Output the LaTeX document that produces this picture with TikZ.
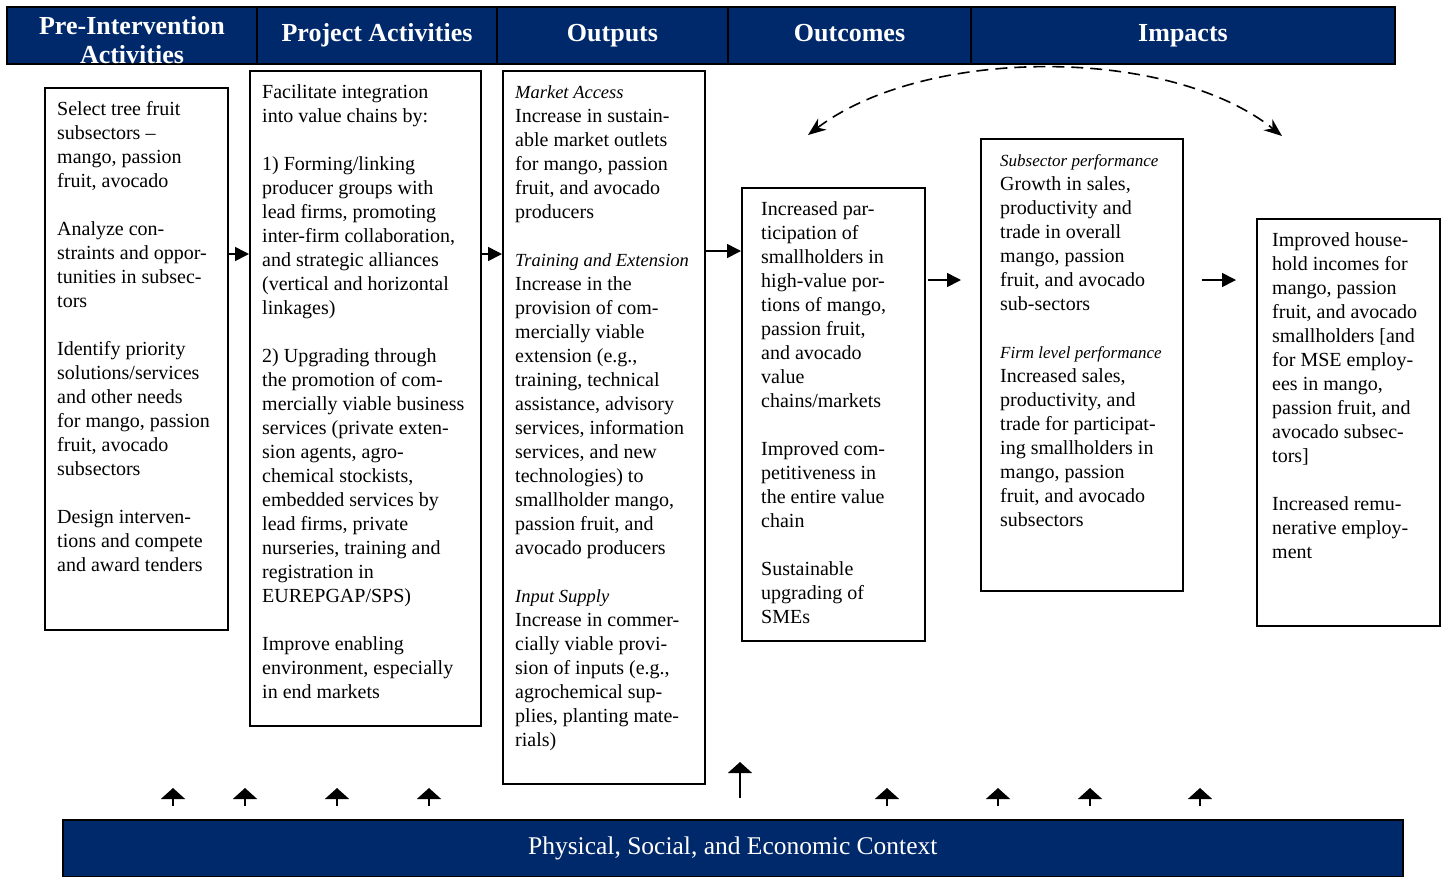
\documentclass[tikz,border=0pt]{standalone}
\usepackage{fontspec}
\setmainfont{Liberation Serif}
\usetikzlibrary{positioning,calc,arrows.meta}
\definecolor{navy}{RGB}{0,41,107}
\tikzstyle{head} = [draw=black,line width=1.5pt,fill=navy,text=white,font=\bfseries\fontsize{26}{29}\selectfont,minimum height=57pt,text height=18pt,text depth=6pt,inner sep=0pt,outer sep=0pt,align=center]
\tikzstyle{box} = [draw,line width=1.6pt,inner sep=0pt,anchor=north west]
\tikzstyle{txt} = [inner sep=0pt,anchor=north west,align=left,font=\fontsize{20}{24}\selectfont]
\tikzstyle{arrow} = [line width=1.6pt,-{Triangle[length=14pt,width=14pt]}]
\tikzstyle{uparrow} = [line width=1.6pt,-{Triangle[length=11pt,width=24pt]}]
\tikzstyle{dasharrow} = [line width=1.6pt,dash pattern=on 12pt off 7pt,{Stealth[length=18pt,width=14pt]}-{Stealth[length=18pt,width=14pt]}]
\newcommand{\sub}[1]{{\fontsize{17}{24}\selectfont\itshape #1}}
\newcommand{\hd}[1]{{\fontsize{18.5}{24}\selectfont\itshape #1}}

\begin{document}
\begin{tikzpicture}[x=1pt,y=-1pt]
  \useasboundingbox (0,0) rectangle (1445,876);
  \node[head,minimum width=250pt,anchor=north west] (h_1) at (7,7) {};
  \node[text=white,font=\bfseries\fontsize{26}{29}\selectfont,align=center] at ($(h_1.center)+(0,5)$) {Pre-Intervention\\Activities};
  \node[head,minimum width=240pt,right=0pt of h_1] (h_2) {Project Activities};
  \node[head,minimum width=231pt,right=0pt of h_2] (h_3) {Outputs};
  \node[head,minimum width=243pt,right=0pt of h_3] (h_4) {Outcomes};
  \node[head,minimum width=424pt,right=0pt of h_4] (h_5) {Impacts};

  \node[box,minimum width=183pt,minimum height=542pt] (pre) at (44,87) {};
  \node[box,minimum width=231pt,minimum height=655pt] (act) at (249,70) {};
  \node[box,minimum width=202pt,minimum height=713pt] (out) at (502,70) {};
  \node[box,minimum width=183pt,minimum height=453pt] (res) at (741,187) {};
  \node[box,minimum width=202pt,minimum height=452pt] (perf) at (980,138) {};
  \node[box,minimum width=183pt,minimum height=407pt] (imp) at (1256,218) {};

  \node[txt] (pre_t) at ([shift={(13,11)}]pre.north west) {\strut Select tree fruit\\subsectors --\\mango, passion\\fruit, avocado\\[24pt]
    Analyze con-\\straints and oppor-\\tunities in subsec-\\tors\\[24pt]
    Identify priority\\solutions/services\\and other needs\\for mango, passion\\fruit, avocado\\subsectors\\[24pt]
    Design interven-\\tions and compete\\and award tenders};
  \node[txt] (act_t) at ([shift={(13,11)}]act.north west) {\strut Facilitate integration\\into value chains by:\\[24pt]
    1) Forming/linking\\producer groups with\\lead firms, promoting\\inter-firm collaboration,\\and strategic alliances\\(vertical and horizontal\\linkages)\\[24pt]
    2) Upgrading through\\the promotion of com-\\mercially viable business\\services (private exten-\\sion agents, agro-\\chemical stockists,\\embedded services by\\lead firms, private\\nurseries, training and\\registration in\\EUREPGAP/SPS)\\[24pt]
    Improve enabling\\environment, especially\\in end markets};
  \node[txt] (out_t) at ([shift={(13,11)}]out.north west) {\strut\hd{Market Access}\\Increase in sustain-\\able market outlets\\for mango, passion\\fruit, and avocado\\producers\\[24pt]
    \hd{Training and Extension}\\Increase in the\\provision of com-\\mercially viable\\extension (e.g.,\\training, technical\\assistance, advisory\\services, information\\services, and new\\technologies) to\\smallholder mango,\\passion fruit, and\\avocado producers\\[24pt]
    \hd{Input Supply}\\Increase in commer-\\cially viable provi-\\sion of inputs (e.g.,\\agrochemical sup-\\plies, planting mate-\\rials)};
  \node[txt] (res_t) at ([shift={(20,11)}]res.north west) {\strut Increased par-\\ticipation of\\smallholders in\\high-value por-\\tions of mango,\\passion fruit,\\and avocado\\value\\chains/markets\\[24pt]
    Improved com-\\petitiveness in\\the entire value\\chain\\[24pt]
    Sustainable\\upgrading of\\SMEs};
  \node[txt] (perf_t) at ([shift={(20,11)}]perf.north west) {\strut\sub{Subsector performance}\\Growth in sales,\\productivity and\\trade in overall\\mango, passion\\fruit, and avocado\\sub-sectors\\[24pt]
    \sub{Firm level performance}\\Increased sales,\\productivity, and\\trade for participat-\\ing smallholders in\\mango, passion\\fruit, and avocado\\subsectors};
  \node[txt] (imp_t) at ([shift={(16,11)}]imp.north west) {\strut Improved house-\\hold incomes for\\mango, passion\\fruit, and avocado\\smallholders [and\\for MSE employ-\\ees in mango,\\passion fruit, and\\avocado subsec-\\tors]\\[24pt]
    Increased remu-\\nerative employ-\\ment};

  \node[draw,line width=1.5pt,fill=navy,text=white,font=\fontsize{25.5}{28}\selectfont,minimum width=1340pt,minimum height=57pt,anchor=north west] (ctx) at (62,819) {Physical, Social, and Economic Context};

  \draw[arrow] (pre.east |- 0,254) -- (act.west |- 0,254);
  \draw[arrow] (act.east |- 0,254) -- (out.west |- 0,254);
  \draw[arrow] (out.east |- 0,251) -- (res.west |- 0,251);
  \draw[arrow,shorten <=2pt,shorten >=19pt] (res.east |- 0,280) -- (perf.west |- 0,280);
  \draw[arrow,shorten <=18pt,shorten >=20pt] (perf.east |- 0,280) -- (imp.west |- 0,280);

  \foreach \x in {173,245,337,429,887,998,1090,1200}
    \draw[uparrow] (ctx.north -| \x,0) ++(0,-13) -- ++(0,-18);
  \draw[uparrow] (ctx.north -| 740,0) ++(0,-21) -- ++(0,-36);

  \coordinate (d_l) at (808,135);
  \coordinate (d_r) at (1282,136);
  \draw[dasharrow] (d_l) .. controls (925,46) and (1170,46) .. (d_r);
\end{tikzpicture}
\end{document}
